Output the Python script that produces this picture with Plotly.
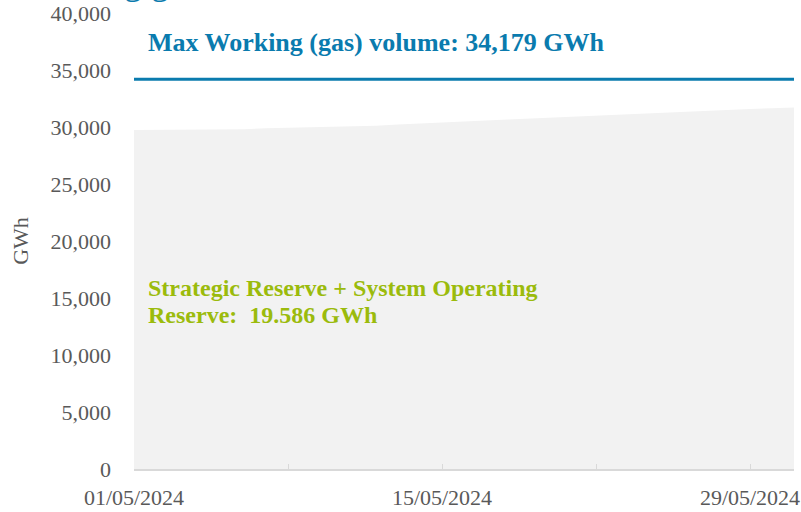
import plotly.graph_objects as go
import pandas as pd

# Data
dates = pd.date_range("2024-05-01", "2024-05-31", freq="D").strftime("%Y-%m-%d").tolist()
storage_gwh = [29740, 29745, 29750, 29755, 29760, 29800, 29880, 29930, 29970, 30000,
               30040, 30120, 30220, 30320, 30400, 30480, 30560, 30650, 30740, 30830,
               30920, 31000, 31080, 31170, 31260, 31350, 31440, 31510, 31580, 31650, 31700]
max_working_volume = 34179
max_line_x = ["2024-05-01", "2024-05-31"]
max_line_y = [max_working_volume, max_working_volume]

x_tickvals = ["2024-05-01", "2024-05-08", "2024-05-15", "2024-05-22", "2024-05-29"]
x_ticktext = ["01/05/2024", "", "15/05/2024", "", "29/05/2024"]
y_tickvals = [0, 5000, 10000, 15000, 20000, 25000, 30000, 35000, 40000]

BLUE = "#0A7BAE"
GREEN = "#9BBB0C"
GREY = "#595959"
FONT = "Liberation Serif"

fig = go.Figure()
fig.add_trace(go.Scatter(
    x=dates, y=storage_gwh, mode="lines", fill="tozeroy",
    fillcolor="#F2F2F2", line=dict(width=0, color="#F2F2F2"),
    hoverinfo="skip", showlegend=False))
fig.add_trace(go.Scatter(
    x=max_line_x, y=max_line_y, mode="lines",
    line=dict(width=3, color=BLUE), showlegend=False))

fig.add_annotation(
    xref="paper", yref="paper", x=0.018, y=0.935, xanchor="left", yanchor="middle",
    text="<b>Max Working (gas) volume: 34,179 GWh</b>", showarrow=False,
    font=dict(family=FONT, size=26, color=BLUE))
fig.add_annotation(
    xref="paper", yref="paper", x=0.018, y=0.397, xanchor="left", yanchor="middle",
    text="<b>Strategic Reserve + System Operating</b>",
    showarrow=False, font=dict(family=FONT, size=24, color=GREEN))
fig.add_annotation(
    xref="paper", yref="paper", x=0.018, y=0.338, xanchor="left", yanchor="middle",
    text="<b>Reserve:  19.586 GWh</b>",
    showarrow=False, font=dict(family=FONT, size=24, color=GREEN))
fig.add_annotation(
    xref="paper", yref="paper", x=-0.18, y=1.02, xanchor="left", yanchor="bottom",
    text="Working gas", showarrow=False,
    font=dict(family=FONT, size=36, color=BLUE))

fig.update_layout(
    width=801, height=512,
    margin=dict(l=134, r=7, t=13, b=43),
    plot_bgcolor="white", paper_bgcolor="white",
    font=dict(family=FONT, size=22, color=GREY),
    xaxis=dict(
        type="date", range=["2024-05-01", "2024-05-31"],
        tickvals=x_tickvals, ticktext=x_ticktext,
        ticks="inside", ticklen=5, tickcolor="#D9D9D9", tickwidth=1,
        showline=True, linecolor="#D9D9D9", linewidth=1.5,
        showgrid=False, zeroline=False, ticklabelstandoff=8,
        automargin=False,
        tickfont=dict(family=FONT, size=22, color=GREY)),
    yaxis=dict(
        range=[0, 40000], tickvals=y_tickvals, tickformat=",",
        showgrid=False, zeroline=False, showline=False, ticks="",
        ticklabelstandoff=22, automargin=False,
        tickfont=dict(family=FONT, size=22, color=GREY),
        title=dict(text="GWh", font=dict(family=FONT, size=22, color=GREY), standoff=15)),
)

fig.write_html("out.html", config={"displayModeBar": False},
               post_script="document.body.style.margin='0';")
